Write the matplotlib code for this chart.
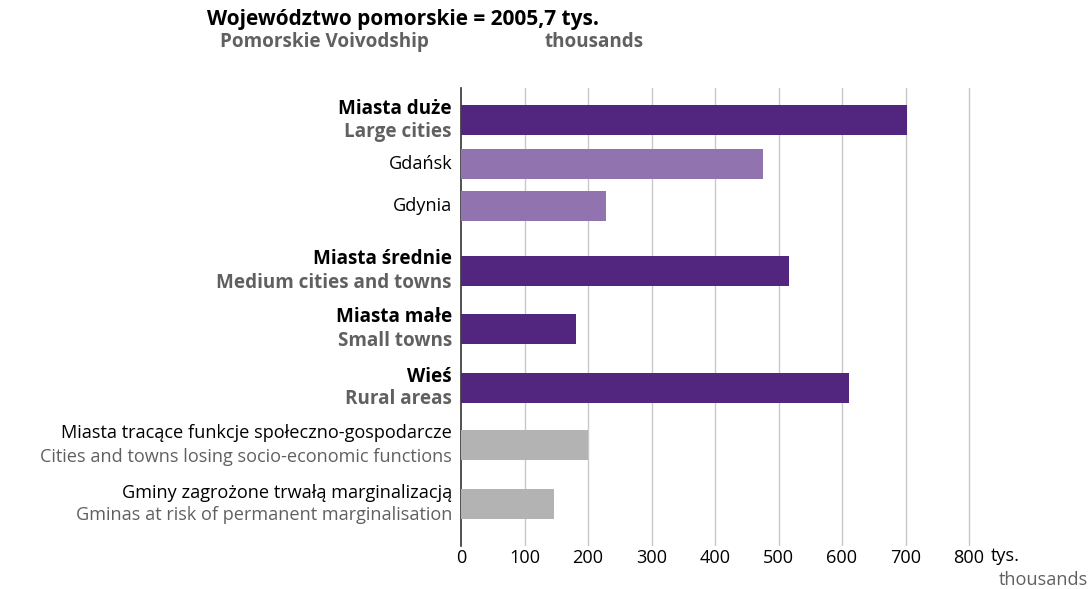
import matplotlib
matplotlib.use("Agg")
import matplotlib.pyplot as plt
import matplotlib.transforms as mtransforms

plt.rcParams['font.family'] = ['Open Sans', 'DejaVu Sans']

# ---- data ----
labels_pl = ["Miasta duże", "Gdańsk", "Gdynia", "Miasta średnie", "Miasta małe", "Wieś",
             "Miasta tracące funkcje społeczno-gospodarcze",
             "Gminy zagrożone trwałą marginalizacją"]
labels_en = ["Large cities", "", "", "Medium cities and towns", "Small towns", "Rural areas",
             "Cities and towns losing socio-economic functions",
             "Gminas at risk of permanent marginalisation"]
values = [702, 475, 229, 516, 181, 611, 200, 146]
kinds = ["main", "sub", "sub", "main", "main", "main", "other", "other"]
x_ticks = [0, 100, 200, 300, 400, 500, 600, 700, 800]

# ---- layout ----
row_y = [120, 164, 206, 271, 329, 388, 445, 504]
W, H = 1090, 589
colors = {"main": "#52267F", "sub": "#9173B0", "other": "#B3B3B3"}
GRAY_TXT = "#606060"
FS = 13.1
FSB = 13.6
FST = 15

fig = plt.figure(figsize=(W / 100, H / 100), dpi=100)
ax_left, ax_right, ax_top, ax_bot = 461, 975, 88, 546
px_per_unit = (969 - 461) / 800
ax = fig.add_axes([ax_left / W, 1 - ax_bot / H, (ax_right - ax_left) / W, (ax_bot - ax_top) / H])
ax.set_xlim(0, (ax_right - ax_left) / px_per_unit)
ax.set_ylim(ax_bot, ax_top)

for v, y, k in zip(values, row_y, kinds):
    ax.barh(y, v, height=30, color=colors[k], zorder=3)

for t in x_ticks[1:]:
    ax.axvline(t, color="#C8C8C8", lw=1.0, zorder=1)

for s in ["top", "right", "bottom"]:
    ax.spines[s].set_visible(False)
ax.spines["left"].set_color("#333333")
ax.spines["left"].set_linewidth(1.2)
ax.set_yticks([])
ax.set_xticks(x_ticks)
ax.set_xticklabels([str(t) for t in x_ticks], fontsize=FS)
ax.tick_params(axis="x", length=0, pad=2)

trans = mtransforms.blended_transform_factory(ax.transAxes, ax.transData)
xoff = -9 / (ax_right - ax_left)
for pl, en, y, k in zip(labels_pl, labels_en, row_y, kinds):
    if k == "main":
        ax.text(xoff, y - 11.5, pl, transform=trans, ha="right", va="center",
                fontsize=FSB, fontweight="bold", color="black")
        ax.text(xoff, y + 11.5, en, transform=trans, ha="right", va="center",
                fontsize=FSB, fontweight="bold", color=GRAY_TXT)
    elif k == "sub":
        ax.text(xoff, y, pl, transform=trans, ha="right", va="center",
                fontsize=FS, color="black")
    else:
        ax.text(xoff, y - 11.5, pl, transform=trans, ha="right", va="center",
                fontsize=FS, color="black")
        ax.text(xoff, y + 11.5, en, transform=trans, ha="right", va="center",
                fontsize=FS, color=GRAY_TXT)

# unit labels
fig.text(991 / W, 1 - 556 / H, "tys.", ha="left", va="center", fontsize=FS, color="black")
fig.text(1088 / W, 1 - 580 / H, "thousands", ha="right", va="center", fontsize=FS, color=GRAY_TXT)

# title
fig.text(207 / W, 1 - 19 / H, "Województwo pomorskie = 2005,7 tys.", ha="left", va="center",
         fontsize=FST, fontweight="bold", color="black")
fig.text(220 / W, 1 - 42 / H, "Pomorskie Voivodship", ha="left", va="center",
         fontsize=FSB, fontweight="bold", color=GRAY_TXT)
fig.text(545 / W, 1 - 42 / H, "thousands", ha="left", va="center",
         fontsize=FSB, fontweight="bold", color=GRAY_TXT)

fig.savefig("out.png", dpi=100, facecolor="white")
